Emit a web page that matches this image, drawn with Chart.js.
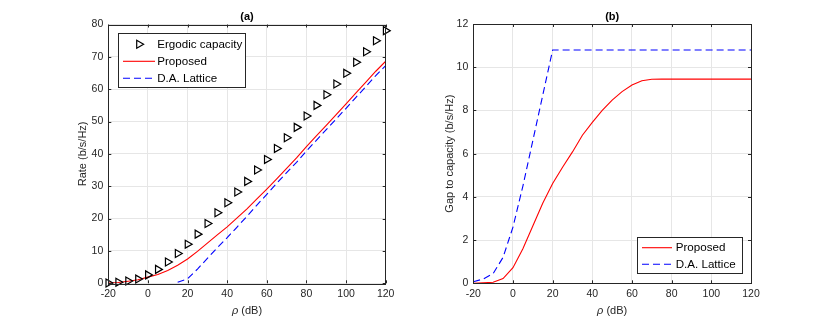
<!DOCTYPE html>
<html>
<head>
<meta charset="utf-8">
<script src="https://cdn.jsdelivr.net/npm/chart.js@4"></script>
<style>
  html, body { margin: 0; padding: 0; background: #fff; }
  #wrap { position: relative; width: 830px; height: 318px; }
  canvas { position: absolute; top: 0; }
</style>
</head>
<body>
<div id="wrap">
  <canvas id="chartA" width="415" height="318" style="left:0"></canvas>
  <canvas id="chartB" width="415" height="318" style="left:415px"></canvas>
</div>
<script>
// rho (dB), every 5 dB
const rho = [-20, -15, -10, -5, 0, 5, 10, 15, 20, 25, 30, 35, 40, 45, 50, 55, 60, 65, 70, 75, 80, 85, 90, 95, 100, 105, 110, 115, 120];

// (a) rates (b/s/Hz)
const ergodicCapacity = [0.1, 0.3, 0.7, 1.3, 2.6, 4.3, 6.6, 9.2, 12.1, 15.2, 18.5, 21.8, 24.9, 28.2, 31.5, 35.0, 38.3, 41.7, 45.0, 48.2, 51.7, 55.0, 58.3, 61.6, 64.9, 68.3, 71.6, 75.0, 78.1];
const proposedRate = [0.1, 0.25, 0.65, 1.1, 1.9, 2.7, 3.95, 5.6, 7.5, 9.85, 12.4, 14.95, 17.45, 20.2, 23.0, 26.1, 29.1, 32.3, 35.55, 38.75, 42.25, 45.55, 48.85, 52.15, 55.45, 58.85, 62.15, 65.55, 68.65];
const latticeRate = [null, null, null, null, null, null, null, 0.3, 1.4, 4.4, 7.7, 11.0, 14.1, 17.4, 20.7, 24.2, 27.5, 30.9, 34.2, 37.4, 40.9, 44.2, 47.5, 50.8, 54.1, 57.5, 60.8, 64.2, 67.3];

// (b) gap to capacity (b/s/Hz)
const proposedGap = [0.0, 0.02, 0.05, 0.22, 0.72, 1.6, 2.65, 3.7, 4.62, 5.37, 6.08, 6.85, 7.45, 8.0, 8.48, 8.87, 9.18, 9.37, 9.44, 9.45, 9.45, 9.45, 9.45, 9.45, 9.45, 9.45, 9.45, 9.45, 9.45];
const latticeGap = [0.07, 0.2, 0.45, 1.2, 2.6, 4.5, 6.6, 8.7, 10.8, 10.8, 10.8, 10.8, 10.8, 10.8, 10.8, 10.8, 10.8, 10.8, 10.8, 10.8, 10.8, 10.8, 10.8, 10.8, 10.8, 10.8, 10.8, 10.8, 10.8];

const xTicks = [-20, 0, 20, 40, 60, 80, 100, 120];

const FONT = '"Liberation Sans", Arial, Helvetica, sans-serif';
const AXIS_COLOR = '#262626';
const GRID_COLOR = '#e6e6e6';

const pts = (vals) => rho.map((x, i) => ({ x: x, y: vals[i] }));

function drawTriangle(ctx, x, y, r) {
    ctx.beginPath();
    ctx.moveTo(x + r, y);
    ctx.lineTo(x - r * 0.5, y - r * 0.866);
    ctx.lineTo(x - r * 0.5, y + r * 0.866);
    ctx.closePath();
    ctx.stroke();
}

// box, inner ticks, titles and legend, like matlab
const matlabFrame = {
    id: 'matlabFrame',
    afterDraw(chart, args, opts) {
        const ctx = chart.ctx;
        const a = chart.chartArea;
        const xs = chart.scales.x, ys = chart.scales.y;
        ctx.save();
        ctx.strokeStyle = AXIS_COLOR;
        ctx.lineWidth = 1;
        ctx.strokeRect(Math.round(a.left) + 0.5, Math.round(a.top) + 0.5,
                       Math.round(a.right - a.left), Math.round(a.bottom - a.top));
        // inner ticks
        ctx.beginPath();
        xs.ticks.forEach(t => {
            const px = Math.round(xs.getPixelForValue(t.value)) + 0.5;
            ctx.moveTo(px, a.bottom); ctx.lineTo(px, a.bottom - 3);
            ctx.moveTo(px, a.top); ctx.lineTo(px, a.top + 3);
        });
        ys.ticks.forEach(t => {
            const py = Math.round(ys.getPixelForValue(t.value)) + 0.5;
            ctx.moveTo(a.left, py); ctx.lineTo(a.left + 3, py);
            ctx.moveTo(a.right, py); ctx.lineTo(a.right - 3, py);
        });
        ctx.stroke();

        const cx = (a.left + a.right) / 2;
        ctx.fillStyle = '#000';
        ctx.textAlign = 'center';
        ctx.textBaseline = 'middle';
        ctx.font = 'bold 11px ' + FONT;
        ctx.fillText(opts.title, cx, 16.5);

        // x label: italic rho + (dB)
        ctx.fillStyle = AXIS_COLOR;
        ctx.font = 'italic 11px ' + FONT;
        const r = '\u03c1';
        const rest = ' (dB)';
        const w1 = ctx.measureText(r).width;
        ctx.font = '11px ' + FONT;
        const w2 = ctx.measureText(rest).width;
        const x0 = cx - (w1 + w2) / 2;
        ctx.textAlign = 'left';
        ctx.font = 'italic 11px ' + FONT;
        ctx.fillText(r, x0, 311);
        ctx.font = '11px ' + FONT;
        ctx.fillText(rest, x0 + w1, 311);

        // y label
        ctx.save();
        ctx.translate(opts.yLabelX, (a.top + a.bottom) / 2);
        ctx.rotate(-Math.PI / 2);
        ctx.textAlign = 'center';
        ctx.fillText(opts.yLabel, 0, 0);
        ctx.restore();

        // legend
        const L = opts.legend;
        ctx.fillStyle = '#fff';
        ctx.fillRect(L.x, L.y, L.w, L.h);
        ctx.strokeStyle = AXIS_COLOR;
        ctx.lineWidth = 1;
        ctx.strokeRect(Math.round(L.x) + 0.5, Math.round(L.y) + 0.5, Math.round(L.w), Math.round(L.h));
        ctx.font = '11.6px ' + FONT;
        ctx.textAlign = 'left';
        ctx.textBaseline = 'middle';
        L.items.forEach((it, i) => {
            const ds = chart.data.datasets[it];
            const y = L.rows[i];
            if (ds.showLine === false) {
                ctx.strokeStyle = '#000';
                ctx.lineWidth = 1.2;
                drawTriangle(ctx, L.sx0 + (L.sx1 - L.sx0) / 2, y, 4.6);
            } else {
                ctx.strokeStyle = ds.borderColor;
                ctx.lineWidth = ds.borderWidth;
                ctx.setLineDash(ds.borderDash || []);
                ctx.beginPath();
                ctx.moveTo(L.sx0, y); ctx.lineTo(L.sx1, y);
                ctx.stroke();
                ctx.setLineDash([]);
            }
            ctx.fillStyle = '#000';
            ctx.fillText(ds.label, L.tx, y);
        });
        ctx.restore();
    }
};

function scalesFor(yMax, yStep, yWidth) {
    return {
        x: {
            type: 'linear', min: -20, max: 120,
            afterBuildTicks: (s) => { s.ticks = xTicks.map(v => ({ value: v })); },
            afterFit: (s) => { s.height = 34.7; },
            grid: { color: GRID_COLOR, drawTicks: false, tickLength: 0 },
            border: { display: false },
            ticks: { color: AXIS_COLOR, font: { family: FONT, size: 10.5 }, padding: 5, maxRotation: 0 }
        },
        y: {
            type: 'linear', min: 0, max: yMax,
            ticks: { stepSize: yStep, color: AXIS_COLOR, font: { family: FONT, size: 10.5 }, padding: 5 },
            afterFit: (s) => { s.width = yWidth; },
            grid: { color: GRID_COLOR, drawTicks: false, tickLength: 0 },
            border: { display: false }
        }
    };
}

new Chart(document.getElementById('chartA'), {
    type: 'line',
    data: {
        datasets: [{
            label: 'Ergodic capacity',
            data: pts(ergodicCapacity),
            showLine: false,
            pointStyle: 'triangle',
            rotation: 90,
            pointRadius: 4.6,
            pointBorderColor: '#000',
            pointBackgroundColor: 'rgba(0,0,0,0)',
            pointBorderWidth: 1.2,
            clip: 6
        }, {
            label: 'Proposed',
            data: pts(proposedRate),
            borderColor: '#ff0000',
            borderWidth: 1.1,
            pointRadius: 0,
            tension: 0
        }, {
            label: 'D.A. Lattice',
            data: pts(latticeRate),
            borderColor: '#0000ff',
            borderWidth: 1.1,
            borderDash: [7, 4],
            pointRadius: 0,
            tension: 0
        }]
    },
    options: {
        responsive: false,
        animation: false,
        devicePixelRatio: 1,
        layout: { padding: { top: 24.5, right: 29.3, bottom: 0, left: 0 } },
        plugins: {
            legend: { display: false },
            tooltip: { enabled: false },
            matlabFrame: {
                title: '(a)',
                yLabel: 'Rate (b/s/Hz)',
                yLabelX: 83,
                legend: { x: 118.3, y: 33.3, w: 126.7, h: 54, rows: [44.3, 61.3, 78.3], items: [0, 1, 2], sx0: 123, sx1: 155, tx: 157.2 }
            }
        },
        scales: scalesFor(80, 10, 108.3)
    },
    plugins: [matlabFrame]
});

new Chart(document.getElementById('chartB'), {
    type: 'line',
    data: {
        datasets: [{
            label: 'Proposed',
            data: pts(proposedGap),
            borderColor: '#ff0000',
            borderWidth: 1.1,
            pointRadius: 0,
            tension: 0
        }, {
            label: 'D.A. Lattice',
            data: pts(latticeGap),
            borderColor: '#0000ff',
            borderWidth: 1.1,
            borderDash: [7, 4],
            pointRadius: 0,
            tension: 0
        }]
    },
    options: {
        responsive: false,
        animation: false,
        devicePixelRatio: 1,
        layout: { padding: { top: 24, right: 79, bottom: 0, left: 0 } },
        plugins: {
            legend: { display: false },
            tooltip: { enabled: false },
            matlabFrame: {
                title: '(b)',
                yLabel: 'Gap to capacity (b/s/Hz)',
                yLabelX: 35,
                legend: { x: 221.7, y: 237.3, w: 105, h: 36, rows: [247.7, 264.3], items: [0, 1], sx0: 227, sx1: 257, tx: 260.7 }
            }
        },
        scales: scalesFor(12, 2, 58.3)
    },
    plugins: [matlabFrame]
});
</script>
</body>
</html>
